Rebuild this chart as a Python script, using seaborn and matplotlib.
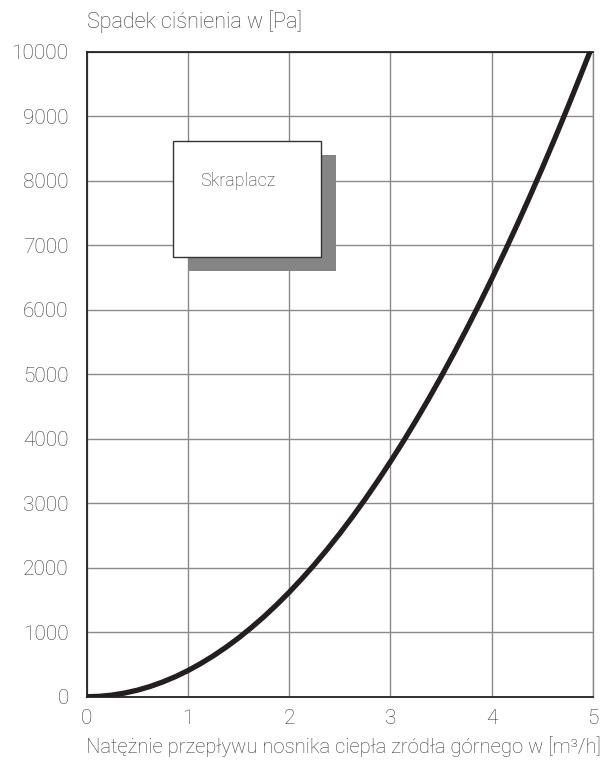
import matplotlib
matplotlib.use('Agg')
import matplotlib.pyplot as plt
import matplotlib.patches as patches
from matplotlib.ticker import MultipleLocator
import seaborn as sbn
import pandas as pd

flow = [0, 0.125, 0.25, 0.375, 0.5, 0.625, 0.75, 0.875, 1.0, 1.125, 1.25, 1.375,
        1.5, 1.625, 1.75, 1.875, 2.0, 2.125, 2.25, 2.375, 2.5, 2.625, 2.75,
        2.875, 3.0, 3.125, 3.25, 3.375, 3.5, 3.625, 3.75, 3.875, 4.0, 4.125,
        4.25, 4.375, 4.5, 4.625, 4.75, 4.875, 4.97]
pressure_drop = [0, 6, 25, 57, 101, 158, 228, 310, 405, 513, 633, 766,
                 911, 1070, 1240, 1424, 1620, 1829, 2050, 2285, 2531, 2791, 3063,
                 3348, 3645, 3955, 4278, 4613, 4961, 5322, 5695, 6081, 6480, 6891,
                 7315, 7752, 8201, 8663, 9138, 9625, 10000]
x_ticks = [0, 1, 2, 3, 4, 5]
y_ticks = [0, 1000, 2000, 3000, 4000, 5000, 6000, 7000, 8000, 9000, 10000]
box_label = 'Skraplacz'

sbn.set_style('white')
plt.rcParams['font.family'] = ['Roboto', 'DejaVu Sans']
text_color = '#3a3a3a'

df = pd.DataFrame({'flow': flow, 'dp': pressure_drop})

fig = plt.figure(figsize=(6.1, 7.69), dpi=100)
ax = fig.add_axes([0.1421, 0.0940, 0.8300, 0.8386])

sbn.lineplot(data=df, x='flow', y='dp', ax=ax, color='#231f20', linewidth=3.8, zorder=5)

ax.set_xlim(0, 5)
ax.set_ylim(0, 10000)
ax.set_xticks(x_ticks)
ax.set_yticks(y_ticks)
ax.xaxis.set_minor_locator(MultipleLocator(0.5))
ax.yaxis.set_minor_locator(MultipleLocator(500))
ax.grid(True, which='major', color='#8a8a8a', linewidth=1.0)
ax.tick_params(which='major', length=0, labelsize=15, labelcolor=text_color)
ax.tick_params(axis='y', which='major', pad=13)
ax.tick_params(axis='x', which='major', pad=9)
ax.tick_params(which='minor', direction='in', length=4, color='#555555', width=0.8)
for lbl in ax.get_xticklabels() + ax.get_yticklabels():
    lbl.set_fontweight('light')

for side in ['left', 'bottom', 'top']:
    ax.spines[side].set_color('#222222')
    ax.spines[side].set_linewidth(1.3)
ax.spines['right'].set_color('#8a8a8a')
ax.spines['right'].set_linewidth(1.0)

ax.set_xlabel('')
ax.set_ylabel('')

# ramka z cieniem
shadow = patches.Rectangle((1.0, 6600), 1.46, 1800, facecolor='#858585',
                           edgecolor='none', zorder=3)
box = patches.Rectangle((0.85, 6820), 1.46, 1800, facecolor='white',
                        edgecolor='#333333', linewidth=1.0, zorder=4)
ax.add_patch(shadow)
ax.add_patch(box)
ax.text(1.12, 8000, box_label, fontsize=13, fontweight='light', color=text_color,
        va='center', ha='left', zorder=6)

fig.text(0.143, 0.972, 'Spadek ciśnienia w [Pa]', fontsize=15.6, fontweight='light',
         color=text_color, ha='left', va='center')
fig.text(0.985, 0.029, 'Natężnie przepływu nosnika ciepła zródła górnego w [m³/h]',
         fontsize=14.6, fontweight='light', color=text_color, ha='right', va='center')

fig.savefig('out.png', dpi=100)
